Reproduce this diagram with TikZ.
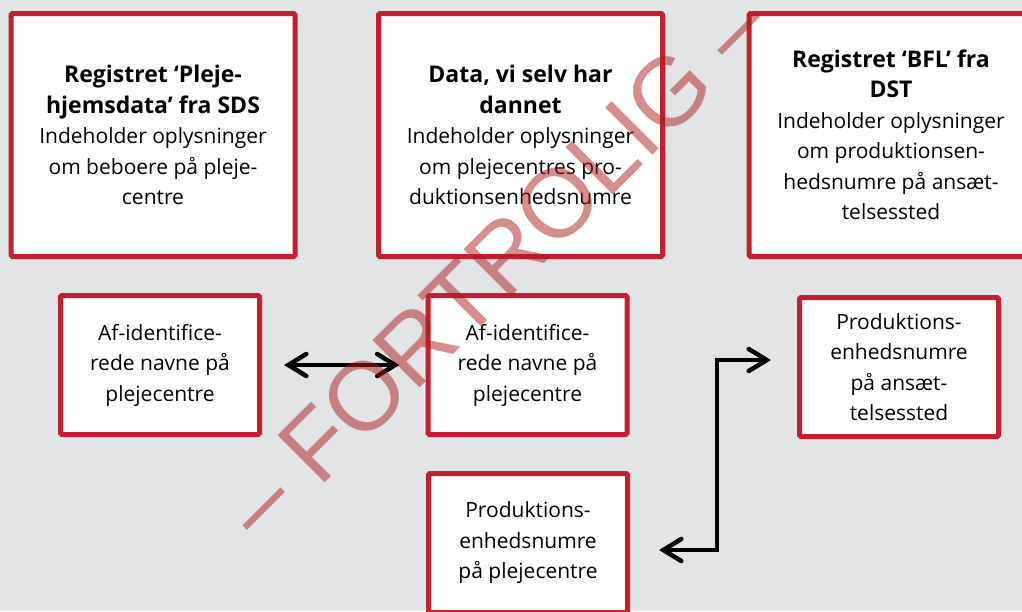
\documentclass[tikz,border=0pt]{standalone}
\usepackage{fontspec}
\setmainfont{Open Sans}
\newfontfamily\wmfont{Liberation Sans}
\usetikzlibrary{arrows.meta,calc}
\definecolor{bg}{RGB}{227,228,230}
\definecolor{boxred}{RGB}{196,30,50}
\definecolor{wmred}{RGB}{170,30,30}
\newcommand\hd[1]{{\fontsize{23}{31}\selectfont\bfseries #1}}
\begin{document}
\begin{tikzpicture}[x=1pt,y=-1pt,
  bigbox/.style={draw=boxred, line width=5pt, fill=white, rounded corners=1.5pt,
    minimum width=284pt, minimum height=243pt, inner sep=0pt, align=center,
    font=\fontsize{21}{30.5}\selectfont},
  smallbox/.style={draw=boxred, line width=5pt, fill=white, rounded corners=1.5pt,
    minimum width=199pt, minimum height=139pt, inner sep=0pt, align=center,
    font=\fontsize{21}{30.5}\selectfont},
  conn/.style={line width=4.5pt, line cap=round, line join=miter,
    {Straight Barb[length=18pt,width=22pt,line cap=round]}-{Straight Barb[length=18pt,width=22pt,line cap=round]}}
]
\useasboundingbox (0,0) rectangle (1022,611);
\clip (0,0) rectangle (1022,611);
\fill[bg] (0,0) rectangle (1022,611);

\node[bigbox] (b1) at (153,135) {\hd{Registret ‘Pleje-}\\\hd{hjemsdata’ fra SDS}\\Indeholder oplysninger\\om beboere på pleje-\\centre};
\node[bigbox] (b2) at (520.5,135) {\hd{Data, vi selv har}\\\hd{dannet}\\Indeholder oplysninger\\om plejecentres pro-\\duktionsenhedsnumre};
\node[bigbox] (b3) at (891,135) {\hd{Registret ‘BFL’ fra}\\\hd{DST}\\Indeholder oplysninger\\om produktionsen-\\hedsnumre på ansæt-\\telsessted};

\node[smallbox] (b4) at (160,365) {Af-identifice-\\rede navne på\\plejecentre};
\node[smallbox] (b5) at (527.5,365) {Af-identifice-\\rede navne på\\plejecentre};
\node[smallbox] (b6) at (899,367) {Produktions-\\enhedsnumre\\på ansæt-\\telsessted};
\node[smallbox] (b7) at (528,543) {Produktions-\\enhedsnumre\\på plejecentre};

\draw[conn, shorten <=22pt, shorten >=26pt] (b4.east) -- (b5.west);
\draw[conn] ($(b7.east)+(29,7)$) -- ($(b7.east)+(87,7)$) |- ($(b6.west)+(-26,-7)$);

\node[font=\wmfont\fontsize{97}{97}\selectfont, text=wmred, text opacity=0.5,
  rotate=45, anchor=base, inner sep=0pt] (wm) at (519,289) {– FORTROLIG –};
\end{tikzpicture}
\end{document}
